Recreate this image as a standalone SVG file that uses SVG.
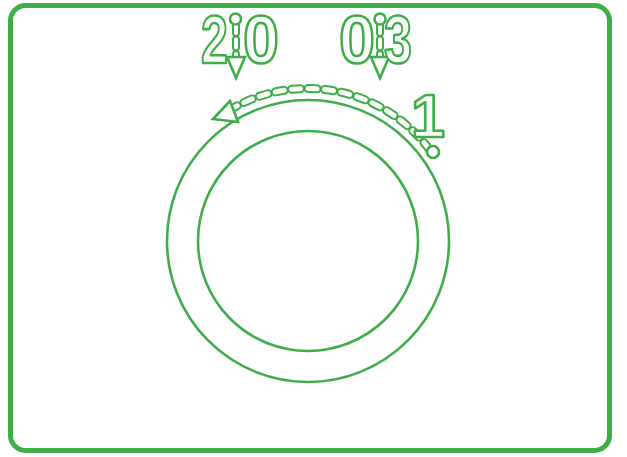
<svg xmlns="http://www.w3.org/2000/svg" width="627" height="457" viewBox="0 0 627 457">
<style>
.ln{fill:none;stroke:#3fae49}
.txt{font-family:"Liberation Sans",Arial,sans-serif;font-weight:bold;fill:#fff;stroke:#3fae49;stroke-width:2.6;stroke-linejoin:round}
.bandO{fill:none;stroke:#3fae49;stroke-width:9;stroke-linecap:round;stroke-dasharray:9 7.5}
.bandI{fill:none;stroke:#fff;stroke-width:5;stroke-linecap:round;stroke-dasharray:9 7.5}
.head{fill:#fff;stroke:#3fae49;stroke-width:2.6;stroke-linejoin:miter}
</style>
<rect id="frame" x="10.5" y="5.5" width="599" height="445" rx="15" class="ln" stroke-width="5"/>
<g id="dial">
<circle cx="308" cy="241" r="141" class="ln" stroke-width="2.6"/>
<circle cx="308" cy="241" r="110" class="ln" stroke-width="2.6"/>
</g>
<g id="connectors">
<g id="arc-arrow">
<path class="bandO" d="M431.9,153 A152,152 0 0 0 234,107.5" style="stroke-dashoffset:-4"/>
<path class="bandI" d="M431.9,153 A152,152 0 0 0 234,107.5" style="stroke-dashoffset:-4"/>
<polygon class="head" points="213,119 230,101 238,122"/>
<circle cx="433" cy="152" r="6" class="head"/>
</g>
<g id="arrow-left">
<path class="bandO" d="M236,25 V57" style="stroke-width:8;stroke-dasharray:8 6.5"/>
<path class="bandI" d="M236,25 V57" style="stroke-width:4;stroke-dasharray:8 6.5"/>
<polygon class="head" points="227,57 245,57 236,78"/>
<circle cx="235.5" cy="19" r="5.5" class="head"/>
</g>
<g id="arrow-right">
<path class="bandO" d="M380,25 V57" style="stroke-width:8;stroke-dasharray:8 6.5"/>
<path class="bandI" d="M380,25 V57" style="stroke-width:4;stroke-dasharray:8 6.5"/>
<polygon class="head" points="371,57 389,57 380,78"/>
<circle cx="380" cy="19" r="5.5" class="head"/>
</g>
</g>
<g id="labels">
<text class="txt" x="201" y="63" font-size="68" textLength="27" lengthAdjust="spacingAndGlyphs">2</text>
<text class="txt" x="243" y="63" font-size="68" textLength="36" lengthAdjust="spacingAndGlyphs">0</text>
<text class="txt" x="339" y="63" font-size="68" textLength="36" lengthAdjust="spacingAndGlyphs">0</text>
<text class="txt" x="384" y="63" font-size="68" textLength="28" lengthAdjust="spacingAndGlyphs">3</text>
<text class="txt" x="411" y="137" font-size="61">1</text>
</g>
</svg>
